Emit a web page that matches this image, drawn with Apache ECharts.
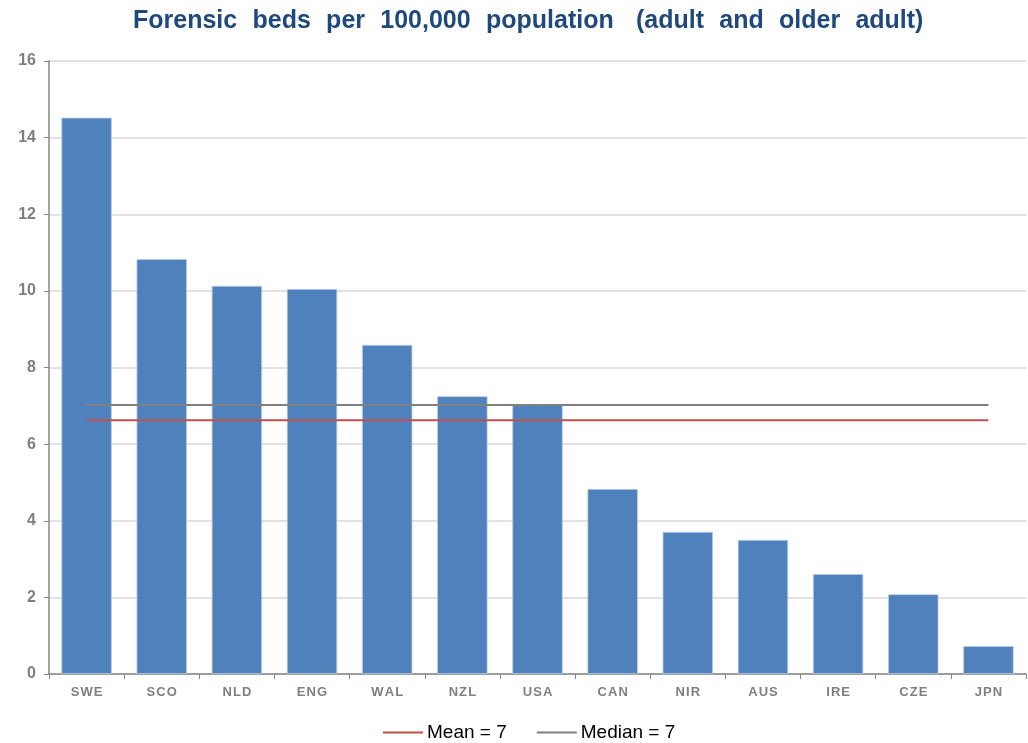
<!DOCTYPE html>
<html><head><meta charset="utf-8">
<script src="https://cdn.jsdelivr.net/npm/echarts@6/dist/echarts.min.js"></script>
<style>html,body{margin:0;padding:0;background:#fff}#c{width:1028px;height:743px}</style>
</head><body><div id="c"></div>
<script>
const categories = ['SWE','SCO','NLD','ENG','WAL','NZL','USA','CAN','NIR','AUS','IRE','CZE','JPN'];
const beds = [14.52, 10.83, 10.13, 10.05, 8.59, 7.25, 7.02, 4.83, 3.71, 3.5, 2.61, 2.08, 0.73];
const meanValue = 6.62;
const medianValue = 7.02;
const yTicks = [0, 2, 4, 6, 8, 10, 12, 14, 16];
const titleText = 'Forensic beds per 100,000 population  (adult and older adult)';

const chart = echarts.init(document.getElementById('c'));
chart.setOption({
  animation: false,
  title: {
    text: titleText.split('  ').map(s => s.split(' ').join(' \u2004')).join(' \u2004 '),
    left: 128, top: 4,
    textStyle: { fontFamily: 'Liberation Sans', fontSize: 25, fontWeight: 'bold', color: '#1F497D' }
  },
  legend: {
    bottom: -4, left: 378,
    itemWidth: 40, itemHeight: 2, itemGap: 30,
    icon: 'rect',
    textStyle: { fontFamily: 'Liberation Sans', fontSize: 19, color: '#000', padding: [0, 0, 0, -1] },
    data: ['Mean = 7', 'Median = 7']
  },
  grid: { left: 49, right: 2, top: 61, bottom: 69 },
  xAxis: {
    type: 'category', data: categories,
    axisLine: { lineStyle: { color: '#868686', width: 1.5 } },
    axisTick: { show: true, length: 5, lineStyle: { color: '#868686' } },
    axisLabel: { fontFamily: 'Liberation Sans', fontSize: 13, fontWeight: 'bold', color: '#7F7F7F', margin: 12,
      formatter: v => v.split('').join('\u200A') }
  },
  yAxis: {
    type: 'value', min: yTicks[0], max: yTicks[yTicks.length-1], interval: 2,
    axisLine: { show: true, lineStyle: { color: '#868686', width: 1.5 } },
    axisTick: { show: true, length: 5, lineStyle: { color: '#868686' } },
    axisLabel: { fontFamily: 'Liberation Sans', fontSize: 16, fontWeight: 'bold', color: '#7F7F7F', margin: 13 },
    splitLine: { lineStyle: { color: '#D9D9D9', width: 1.5 } }
  },
  series: [
    { name: 'Beds', type: 'bar', data: beds, barWidth: '67%',
      itemStyle: { color: '#4F81BD', borderColor: '#B9CDE5', borderWidth: 0.8 } },
    { name: 'Mean = 7', type: 'line', data: categories.map(() => meanValue),
      symbol: 'none', lineStyle: { color: '#C0504D', width: 2 }, itemStyle: { color: '#C0504D' } },
    { name: 'Median = 7', type: 'line', data: categories.map(() => medianValue),
      symbol: 'none', lineStyle: { color: '#808080', width: 2 }, itemStyle: { color: '#808080' } }
  ]
});
</script></body></html>
